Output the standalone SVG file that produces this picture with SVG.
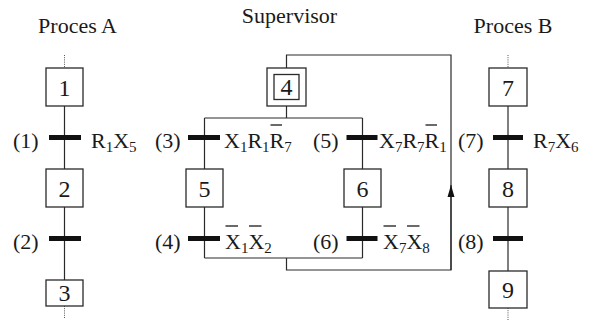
<svg xmlns="http://www.w3.org/2000/svg" width="592" height="324" viewBox="0 0 592 324">
<style>
text{font-family:"Liberation Serif","Times New Roman",serif;fill:#1a1a1a}
.t{font-size:22px}
.n{font-size:24px;text-anchor:middle}
.h{font-size:22px;text-anchor:middle}
.s{font-size:15px}
.box{fill:#fff;stroke:#2a2a2a;stroke-width:1.3}
.ln{fill:none;stroke:#2a2a2a;stroke-width:1.2}
.dot{fill:none;stroke:#555;stroke-width:1;stroke-dasharray:1 1.2}
.bar{fill:#111}
.ov{stroke:#1a1a1a;stroke-width:1.3}
</style>
<defs>
<marker id="ar" markerWidth="12" markerHeight="8" refX="12" refY="4" orient="auto" markerUnits="userSpaceOnUse" viewBox="0 0 12 8">
<path d="M12 4 L0 0.5 L0 7.5 Z" fill="#111"/>
</marker>
</defs>

<text class="h" x="77.5" y="33">Proces A</text>
<text class="h" x="289.5" y="23">Supervisor</text>
<text class="h" x="513" y="33">Proces B</text>

<g id="connectors">
<path class="dot" d="M64.5 55 V68 M64.5 306 V318 M508 55 V68 M508 308 V320"/>
<path class="ln" d="M64.5 106 V169 M64.5 207 V280"/>
<path class="ln" d="M508 106 V169 M508 207 V271"/>
<path class="ln" d="M286.5 106 V118 M204.5 118 H362.5 M204.5 118 V169 M204.5 207 V258 M362.5 118 V169 M362.5 207 V258 M204.5 258 H362.5 M286.5 258 V270 H451 V55 H286.5 V68"/>
<path class="ln" d="M451 270 V185" marker-end="url(#ar)"/>
</g>

<g id="step1"><rect class="box" x="46" y="68" width="37" height="38"/><text class="n" x="64.5" y="96">1</text></g>
<g id="step2"><rect class="box" x="46" y="169" width="37" height="38"/><text class="n" x="64.5" y="197">2</text></g>
<g id="step3"><rect class="box" x="46" y="280" width="37" height="26"/><text class="n" x="64.5" y="301">3</text></g>

<g id="step4"><rect class="box" x="267" y="68" width="39" height="38"/><rect class="box" x="274" y="74.5" width="25" height="25"/><text class="n" x="286.5" y="95">4</text></g>
<g id="step5"><rect class="box" x="186" y="169" width="37" height="38"/><text class="n" x="204.5" y="197">5</text></g>
<g id="step6"><rect class="box" x="344" y="169" width="37" height="38"/><text class="n" x="362.5" y="197">6</text></g>

<g id="step7"><rect class="box" x="489" y="68" width="38" height="38"/><text class="n" x="508" y="96">7</text></g>
<g id="step8"><rect class="box" x="489" y="169" width="38" height="38"/><text class="n" x="508" y="197">8</text></g>
<g id="step9"><rect class="box" x="489" y="271" width="38" height="37"/><text class="n" x="508" y="298">9</text></g>

<g id="tr1"><rect class="bar" x="49" y="135" width="32" height="5"/><text class="t" x="13" y="148">(1)</text>
<text class="t" x="91" y="148">R<tspan class="s" dy="4">1</tspan><tspan dy="-4">X</tspan><tspan class="s" dy="4">5</tspan></text></g>
<g id="tr2"><rect class="bar" x="49" y="236" width="32" height="5"/><text class="t" x="13" y="249">(2)</text></g>

<g id="tr3"><rect class="bar" x="188" y="135" width="32" height="5"/><text class="t" x="155" y="148">(3)</text>
<text class="t" x="224" y="148">X<tspan class="s" dy="4">1</tspan><tspan dy="-4">R</tspan><tspan class="s" dy="4">1</tspan><tspan dy="-4">R</tspan><tspan class="s" dy="4">7</tspan></text>
<line class="ov" x1="270.5" y1="125" x2="282" y2="125"/></g>
<g id="tr5"><rect class="bar" x="346.5" y="135" width="31" height="5"/><text class="t" x="313" y="148">(5)</text>
<text class="t" x="379" y="148">X<tspan class="s" dy="4">7</tspan><tspan dy="-4">R</tspan><tspan class="s" dy="4">7</tspan><tspan dy="-4">R</tspan><tspan class="s" dy="4">1</tspan></text>
<line class="ov" x1="425.5" y1="125" x2="437" y2="125"/></g>
<g id="tr4"><rect class="bar" x="188" y="236" width="32" height="5"/><text class="t" x="155" y="249">(4)</text>
<text class="t" x="225" y="249">X<tspan class="s" dy="4">1</tspan><tspan dy="-4">X</tspan><tspan class="s" dy="4">2</tspan></text>
<line class="ov" x1="225.5" y1="226" x2="238" y2="226"/><line class="ov" x1="249" y1="226" x2="261.5" y2="226"/></g>
<g id="tr6"><rect class="bar" x="346.5" y="236" width="31" height="5"/><text class="t" x="313" y="249">(6)</text>
<text class="t" x="383" y="249">X<tspan class="s" dy="4">7</tspan><tspan dy="-4">X</tspan><tspan class="s" dy="4">8</tspan></text>
<line class="ov" x1="383.5" y1="226" x2="396" y2="226"/><line class="ov" x1="407" y1="226" x2="419.5" y2="226"/></g>

<g id="tr7"><rect class="bar" x="493" y="135" width="30" height="5"/><text class="t" x="458" y="148">(7)</text>
<text class="t" x="533" y="148">R<tspan class="s" dy="4">7</tspan><tspan dy="-4">X</tspan><tspan class="s" dy="4">6</tspan></text></g>
<g id="tr8"><rect class="bar" x="493" y="236" width="30" height="5"/><text class="t" x="458" y="249">(8)</text></g>
</svg>
